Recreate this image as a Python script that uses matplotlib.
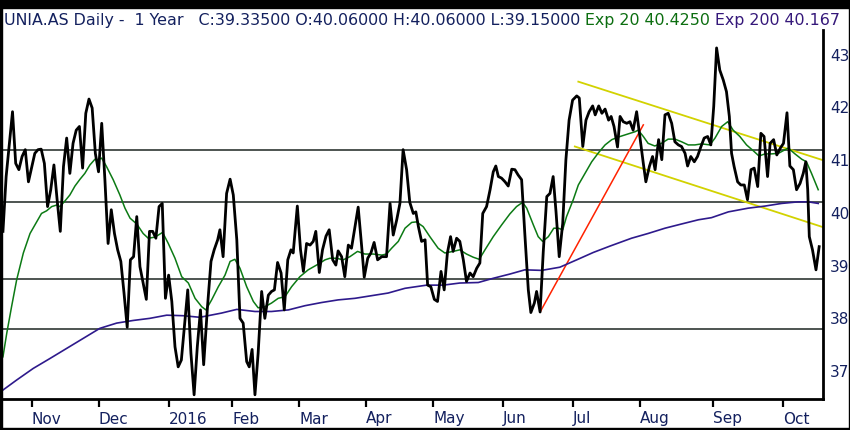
import numpy as np
import pandas as pd
import matplotlib
matplotlib.use("Agg")
import matplotlib.pyplot as plt
from matplotlib.patches import Rectangle

# trading calendar (Euronext Amsterdam), one bar per day
holidays = ["2015-12-25", "2016-01-01", "2016-03-25", "2016-03-28"]
dates = pd.bdate_range("2015-10-20", "2016-10-18", freq="C", holidays=holidays)

# close prices (x = trading day number from 20 Oct 2015)
price_day = [0, 1, 3, 4, 5, 6, 7, 8, 10, 11, 12, 13, 14, 15, 16, 17, 18, 19, 20, 21,
             22, 23, 24, 25, 26, 27, 28, 29, 30, 31, 32, 33, 34, 35, 36, 37, 38, 39, 40, 41,
             42, 43, 44, 45, 46, 47, 48, 49, 50, 51, 52, 53, 54, 55, 56, 58, 59, 60, 61, 62,
             63, 64.2, 65.3, 66.3, 67.4, 68.1, 69.1, 70.2, 71.3, 72.3, 73.4, 74.4, 75.4, 76.5,
             77.3, 78.2, 79.1, 80.1, 81.2, 82.2, 83.3, 84.3, 85.2, 86.2, 87.3, 88.3, 89.4, 90.4,
             91.1, 92.4, 93.4, 94.3, 95.3, 96.4, 97.4, 98.2, 99.3, 100.3, 101.4, 102.4, 103.5,
             104.5, 105.2, 106.3, 107.3, 108.4, 109.4, 110.5, 111.5, 112.6, 113.4, 114.5, 115.5,
             116.5, 117.6, 118.9, 120.4, 121.5, 122.5, 123.6, 124.6, 125.6, 126.7, 127.7, 128.8,
             129.6, 130.4, 131.4, 132.5, 133.3, 134.3, 135.4, 136.4, 137.5, 138.5, 139.5, 140.5,
             141.3, 142.4, 143.4, 144.5, 145.5, 146.6, 147.6, 148.7, 149.7, 150.6, 151.8, 152.9,
             153.9, 154.7, 155.5, 156.5, 157.6, 158.6, 159.7, 160.7, 161.7, 162.8, 163.8, 164.9,
             165.7, 166.8, 167.5, 168.6, 169.6, 170.7, 171.7, 172.7, 173.6, 174.6, 175.7, 176.7,
             177.7, 178.8, 180.1, 180.9, 182.0, 183.0, 184.0, 185.1, 185.9, 187.0, 188.0, 189.0,
             190.1, 190.9, 191.8, 192.9, 193.7, 194.7, 195.8, 196.8, 197.8, 198.9, 199.9, 201.0,
             201.8, 202.9, 203.9, 204.7, 205.8, 206.8, 207.8, 208.8, 209.9, 210.9, 212.0, 213.0,
             214.1, 214.9, 215.9, 217.0, 218.0, 219.1, 220.1, 221.2, 222.2, 223.1, 224.0, 225.0,
             226.1, 227.1, 228.0, 228.7, 229.5, 230.6, 231.6, 232.7, 233.7, 234.8, 235.8, 236.9,
             237.9, 238.9, 240.0, 240.8, 241.9, 242.9, 244.0, 245.0, 246.1, 247.0, 248.1, 249.1,
             250.2, 251.2, 252.0, 252.6, 253.1, 254.1, 255.2, 256.2]
price_close = [39.65, 40.69, 41.92, 40.94, 40.82, 41.07, 41.20, 40.59, 41.13, 41.20, 41.21, 40.94,
               40.12, 40.44, 40.91, 40.25, 39.65, 40.88, 41.42, 40.75, 41.32, 41.57, 41.64, 40.85,
               41.89, 42.16, 41.99, 41.13, 40.78, 41.70, 40.63, 39.42, 40.06, 39.61, 39.30, 39.08,
               38.48, 37.83, 39.11, 39.17, 39.93, 38.98, 38.67, 38.36, 39.65, 39.65, 39.52, 40.12,
               40.18, 38.38, 38.82, 38.32, 37.46, 37.08, 37.21, 38.54, 37.34, 36.55, 37.46, 38.16,
               37.12, 38.22, 39.08, 39.30, 39.49, 39.68, 39.17, 40.37, 40.64, 40.34, 39.49, 38.00,
               37.91, 37.18, 37.08, 37.41, 36.55, 37.34, 38.51, 38.00, 38.44, 38.51, 38.54, 39.06,
               38.86, 38.16, 39.11, 39.30, 39.24, 40.13, 39.30, 38.89, 39.42, 39.39, 39.46, 39.65,
               38.87, 39.30, 39.56, 39.68, 39.11, 39.01, 39.28, 39.17, 38.79, 39.39, 39.33, 39.74,
               40.11, 39.36, 38.78, 39.14, 39.24, 39.44, 39.11, 39.17, 39.17, 40.18, 39.58, 39.87,
               40.18, 41.20, 40.82, 40.20, 39.99, 40.02, 39.74, 39.46, 39.49, 38.63, 38.60, 38.36,
               38.32, 38.89, 38.54, 39.24, 39.55, 39.27, 39.52, 39.46, 39.11, 38.70, 38.86, 38.79,
               38.95, 39.05, 39.99, 40.12, 40.44, 40.78, 40.89, 40.69, 40.66, 40.59, 40.51, 40.83,
               40.82, 40.72, 40.63, 39.61, 38.54, 38.11, 38.29, 38.51, 38.12, 39.27, 40.31, 40.37,
               40.69, 40.02, 39.17, 39.80, 41.01, 41.76, 42.14, 42.22, 42.18, 41.26, 41.76, 41.92,
               42.03, 41.86, 42.03, 41.89, 41.97, 41.76, 41.83, 41.64, 41.25, 41.83, 41.73, 41.70,
               41.73, 41.57, 41.92, 41.45, 40.94, 40.59, 40.88, 41.07, 40.82, 41.39, 41.01, 41.86,
               41.89, 41.70, 41.35, 41.29, 41.26, 41.13, 40.89, 41.07, 40.97, 41.07, 41.26, 41.42,
               41.45, 41.29, 42.02, 43.13, 42.71, 42.52, 42.30, 41.83, 41.13, 40.88, 40.59, 40.53,
               40.53, 40.25, 40.82, 40.85, 40.50, 41.51, 41.45, 40.69, 41.32, 41.39, 41.10, 41.23,
               41.32, 41.90, 40.89, 40.82, 40.44, 40.56, 40.75, 40.97, 40.44, 39.55, 39.30, 38.92,
               39.36]

# 20-day exponential average (green)
ema20_day = [0, 1.2, 2.7, 4.3, 6.4, 8.5, 10.6, 12.1, 13.7, 15.3, 16.9, 17.9, 19.5, 21.0, 22.6,
             24.2, 25.7, 27.3, 28.9, 29.9, 31.0, 32.5, 34.6, 36.7, 38.3, 39.9, 42.0, 44.0, 45.6,
             47.7, 50.1, 51.9, 54.0, 56.1, 58.2, 60.3, 62.4, 63.7, 65.5, 67.6, 69.7, 71.3, 72.8,
             74.4, 76.5, 78.6, 80.1, 82.2, 84.3, 86.4, 88.5, 90.6, 93.2, 95.8, 99.0, 101.1, 102.6,
             104.7, 106.8, 108.9, 111.3, 113.6, 116.2, 118.9, 120.4, 122.0, 124.1, 126.2, 128.3,
             129.8, 131.9, 134.0, 136.6, 138.7, 141.3, 143.4, 145.5, 147.6, 149.5, 151.3, 153.9,
             156.5, 159.1, 161.2, 163.1, 164.4, 166.5, 168.0, 169.4, 171.2, 172.9, 174.3, 175.7,
             176.9, 179.0, 180.6, 182.7, 184.8, 186.9, 189.0, 191.1, 193.2, 195.2, 196.3, 198.4,
             199.4, 201.0, 202.5, 204.6, 206.7, 208.8, 210.9, 213.0, 215.1, 217.2, 219.3, 221.9,
             223.5, 225.6, 227.5, 229.2, 231.3, 233.4, 235.5, 237.3, 239.2, 241.3, 243.4, 244.9,
             246.5, 248.6, 250.7, 252.2, 253.8, 255.9]
ema20_val = [37.27, 37.72, 38.22, 38.73, 39.24, 39.61, 39.83, 39.99, 40.04, 40.12, 40.15, 40.12,
             40.23, 40.34, 40.51, 40.64, 40.75, 40.91, 41.02, 41.01, 41.04, 40.88, 40.63, 40.34,
             40.09, 39.90, 39.79, 39.61, 39.52, 39.54, 39.63, 39.42, 39.14, 38.79, 38.67, 38.38,
             38.22, 38.16, 38.35, 38.60, 38.82, 39.08, 39.12, 38.95, 38.60, 38.32, 38.20, 38.22,
             38.29, 38.38, 38.41, 38.60, 38.79, 38.92, 39.03, 39.11, 39.14, 39.14, 39.11, 39.17,
             39.27, 39.22, 39.22, 39.20, 39.22, 39.33, 39.46, 39.71, 39.82, 39.83, 39.74, 39.55,
             39.33, 39.24, 39.27, 39.30, 39.22, 39.16, 39.12, 39.30, 39.55, 39.77, 39.98, 40.12,
             40.20, 40.09, 39.77, 39.55, 39.46, 39.55, 39.71, 39.71, 39.68, 39.93, 40.25, 40.53,
             40.75, 40.97, 41.14, 41.29, 41.39, 41.44, 41.48, 41.50, 41.54, 41.57, 41.45, 41.32,
             41.27, 41.32, 41.40, 41.40, 41.35, 41.29, 41.29, 41.31, 41.29, 41.42, 41.64, 41.73,
             41.57, 41.45, 41.29, 41.18, 41.08, 41.12, 41.12, 41.13, 41.18, 41.23, 41.12, 41.02,
             40.97, 40.75, 40.44]

# 200-day exponential average (purple)
ema200_day = [0, 4.3, 9.5, 14.8, 20.0, 25.2, 30.4, 35.7, 40.9, 46.1, 51.4, 56.6, 61.8, 68.6,
              73.4, 79.1, 84.3, 89.6, 94.8, 100.0, 105.2, 110.5, 115.7, 120.9, 126.2, 133.0,
              138.2, 143.4, 149.2, 153.9, 159.1, 163.8, 169.1, 174.8, 180.1, 185.3, 190.5, 197.3,
              202.5, 207.8, 213.0, 218.3, 222.4, 227.7, 233.9, 239.2, 244.4, 249.6, 252.8, 255.9]
ema200_val = [36.64, 36.83, 37.05, 37.24, 37.43, 37.62, 37.81, 37.91, 37.96, 38.00, 38.06, 38.05,
              38.02, 38.10, 38.17, 38.13, 38.13, 38.16, 38.24, 38.30, 38.35, 38.38, 38.43, 38.48,
              38.57, 38.63, 38.63, 38.67, 38.68, 38.76, 38.84, 38.92, 38.91, 38.97, 39.11, 39.25,
              39.37, 39.52, 39.61, 39.71, 39.79, 39.87, 39.91, 40.02, 40.09, 40.13, 40.18, 40.21,
              40.21, 40.18]

# drawn levels and trend lines
levels = [41.2, 40.2, 38.75, 37.79]
upper_day, upper_val = [180.6, 257.4], [42.49, 41.00]
lower_day, lower_val = [179.5, 257.4], [41.26, 39.73]
red_day, red_val = [168.6, 201.0], [38.12, 41.67]

W, H = 850, 430
fig = plt.figure(figsize=(W / 100, H / 100), dpi=100)
ax = fig.add_axes([2 / W, (H - 399) / H, (823 - 2) / W, (399 - 30) / H])

for lv in levels:
    ax.axhline(lv, color="#1c2622", lw=1.1, zorder=1)
ax.plot(upper_day, upper_val, color="#d2d200", lw=1.3, zorder=2)
ax.plot(lower_day, lower_val, color="#d2d200", lw=1.3, zorder=2)
ax.plot(red_day, red_val, color="#ff2200", lw=1.1, zorder=2)
ax.plot(ema200_day, ema200_val, color="#2e1a8c", lw=1.2, zorder=3)
ax.plot(ema20_day, ema20_val, color="#0c7a14", lw=1.1, zorder=4)
ax.plot(price_day, price_close, color="black", lw=2.0, zorder=5, solid_joinstyle="round")

ax.set_xlim(-0.3, 257.4)
ax.set_ylim(36.47, 43.47)

# month ticks at the first trading day of each month
month_start = np.where(dates.month != np.roll(dates.month, 1))[0]
labels = ["2016" if dates[i].month == 1 else dates[i].strftime("%b") for i in month_start]
ax.set_xticks(month_start)
ax.set_xticklabels(labels, ha="left", fontsize=11, color="#13205e")
ax.tick_params(axis="x", direction="out", length=6, width=1.6, color="black", pad=3)
ax.yaxis.tick_right()
ax.set_yticks(range(37, 44))
ax.tick_params(axis="y", length=0, pad=5, labelsize=11, labelcolor="#13205e")

ax.spines["top"].set_visible(False)
ax.spines["left"].set_visible(False)
ax.spines["right"].set_linewidth(2)
ax.spines["bottom"].set_linewidth(2)

# title pieces
t1 = fig.text(4 / W, 1 - 20 / H, "UNIA.AS Daily -  1 Year   C:39.33500 O:40.06000 H:40.06000 L:39.15000 ",
              fontsize=11.4, color="#13205e", va="center", ha="left")
t2 = ax.annotate("Exp 20 40.4250 ", xy=(1, 0), xycoords=t1, va="bottom", ha="left",
                 fontsize=11.4, color="#0c6e10")
t3 = ax.annotate("Exp 200 40.167", xy=(1, 0), xycoords=t2, va="bottom", ha="left",
                 fontsize=11.4, color="#35187a")

# black frame around the picture
fig.patches.append(Rectangle((0, 1 - 8 / H), 1, 8 / H, transform=fig.transFigure, color="black"))
fig.patches.append(Rectangle((0, 0), 2 / W, 1, transform=fig.transFigure, color="black"))
fig.patches.append(Rectangle((0, 0), 1, 2 / H, transform=fig.transFigure, color="black"))
fig.patches.append(Rectangle((1 - 1.5 / W, 0), 1.5 / W, 1, transform=fig.transFigure, color="black"))

fig.savefig("out.png", dpi=100)
